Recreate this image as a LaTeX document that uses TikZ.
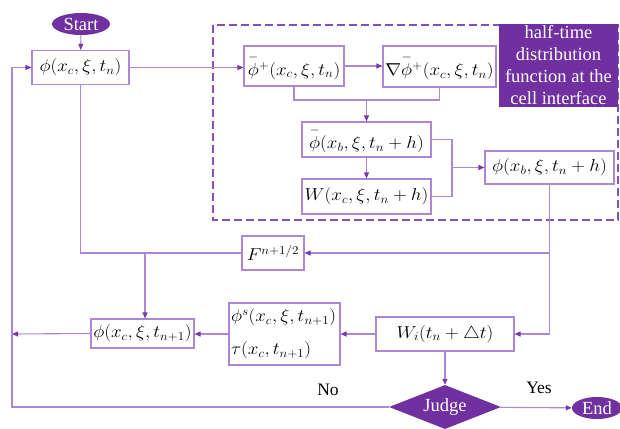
\documentclass[tikz,border=0pt]{standalone}
\usepackage{fontspec}
\setmainfont{Liberation Serif}
\usepackage{graphicx}
\usetikzlibrary{arrows.meta,shapes.geometric}
\definecolor{pfill}{RGB}{112,48,160}
\definecolor{pline}{RGB}{172,136,212}
\definecolor{parrow}{RGB}{118,58,170}
\definecolor{pdash}{RGB}{134,80,186}
\newcommand{\mx}[1]{\scalebox{1.1}[1]{$#1$}}
\newcommand{\bphi}{\mathord{\stackrel{\raisebox{1pt}{$\scriptstyle-$}}{\phi}}}
\begin{document}
\begin{tikzpicture}[x=1pt,y=-1pt,
  box/.style={draw=pline, line width=1.1pt, fill=white, inner sep=0pt,
    font=\fontsize{18.5}{22}\selectfont},
  term/.style={ellipse, fill=pfill, text=white, inner sep=0pt,
    font=\fontsize{18.5}{22}\selectfont},
  conn/.style={draw=pline, line width=1.1pt},
  arr/.style={conn, -{Triangle[length=6pt,width=5pt,color=parrow]}},
  lbl/.style={font=\fontsize{17.5}{21}\selectfont, inner sep=0pt}]
\useasboundingbox (0,0) rectangle (620,428);
\fill[white] (0,0) rectangle (620,428);
% dashed region
\draw[pdash, line width=1.1pt, dash pattern=on 8pt off 4pt] (213,25) rectangle (618,220);
\node[fill=pfill, text=white, inner sep=0pt, minimum width=119pt, minimum height=83pt,
  align=center, font=\fontsize{18.5}{22}\selectfont] (lab) at (558.5,65.5)
  {half-time\\distribution\\function at the\\cell interface};
% nodes
\node[term, minimum width=58pt, minimum height=22pt] (start) at (81,24) {Start};
\node[box, minimum width=97pt, minimum height=34pt] (phi0) at (80.5,67.5) {\mx{\phi(x_c,\xi,t_n)}};
\node[box, minimum width=100pt, minimum height=40pt] (phiplus) at (294,66) {\mx{\bphi{}^+(x_c,\xi,t_n)}};
\node[box, minimum width=113pt, minimum height=41pt] (nabla) at (439.5,66.5) {\mx{\nabla\bphi{}^+(x_c,\xi,t_n)}};
\node[box, minimum width=129pt, minimum height=35pt] (phibar) at (366.5,139.5) {\mx{\bphi(x_b,\xi,t_n+h)}};
\node[box, minimum width=129pt, minimum height=35pt] (W) at (366.5,196.5) {\mx{W(x_c,\xi,t_n+h)}};
\node[box, minimum width=129pt, minimum height=33pt] (phib) at (549.5,167.5) {\mx{\phi(x_b,\xi,t_n+h)}};
\node[box, minimum width=62pt, minimum height=34pt] (F) at (273,253) {\mx{F^{n+1/2}}};
\node[box, minimum width=103pt, minimum height=29pt] (phin1) at (142.5,333.5) {\mx{\phi(x_c,\xi,t_{n+1})}};
\node[box, minimum height=62pt, text width=107pt, inner xsep=2pt, align=left] (phis) at (284.5,334)
  {\mx{\phi^s(x_c,\xi,t_{n+1})}\\[11pt]\mx{\tau(x_c,t_{n+1})}};
\node[box, minimum width=138pt, minimum height=34pt] (Wi) at (445,334) {\mx{W_i(t_n+\triangle t)}};
\node[diamond, fill=pfill, text=white, inner sep=0pt, aspect=2.5, minimum width=112pt,
  minimum height=44pt, font=\fontsize{18.5}{22}\selectfont] (judge) at (445,407) {Judge};
\node[term, minimum width=50pt, minimum height=22pt] (end) at (597,408) {End};
\node[lbl] (no) at (328,390) {No};
\node[lbl] (yes) at (539,388) {Yes};
% coordinates
\coordinate (m1) at (366.5,100);
\coordinate (m2) at (452,167.5);
\coordinate (fR) at (549.5,253);
\coordinate (wR) at (549.5,334);
\coordinate (fL) at (80.5,253);
\coordinate (fM) at (145,253);
\coordinate (lA) at (12,334);
\coordinate (lB) at (12,407);
\coordinate (lC) at (12,67.5);
% connectors
\draw[arr] (start) -- (phi0);
\draw[arr] (phi0.east) -- (phi0.east -| phiplus.west);
\draw[arr] (phiplus.east) -- (phiplus.east -| nabla.west);
\draw[conn] (phiplus.south) |- (m1) -| (nabla.south);
\draw[arr] (m1) -- (phibar.north);
\draw[arr] (phibar) -- (W);
\draw[conn] (phibar.east) -| (m2) |- (W.east);
\draw[arr] (m2) -- (phib.west);
\draw[conn] (phib.south) -- (wR);
\draw[arr] (wR) -- (Wi.east);
\draw[arr] (fR) -- (F.east);
\draw[conn] (F.west) -- (fL) -- (phi0.south);
\draw[arr] (fM) -- (fM |- phin1.north);
\draw[arr] (Wi.west) -- (Wi.west -| phis.east);
\draw[arr] (phis.west) -- (phis.west -| phin1.east);
\draw[arr] (phin1.west) -- (lA);
\draw[arr] (Wi) -- (judge);
\draw[arr] (judge.west) -- (lB) -- (lC) -- (phi0.west);
\draw[arr] (judge) -- (end);
\end{tikzpicture}
\end{document}
